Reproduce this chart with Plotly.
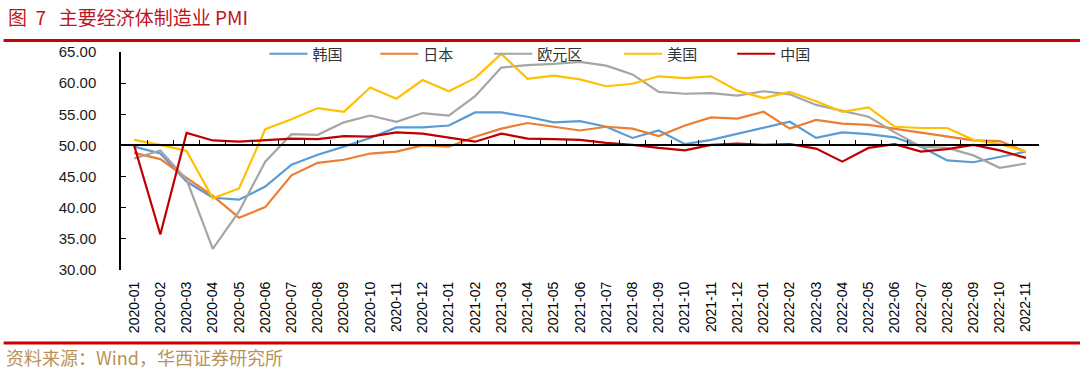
import plotly.graph_objects as go

months = ["2020-01", "2020-02", "2020-03", "2020-04", "2020-05", "2020-06", "2020-07", "2020-08",
          "2020-09", "2020-10", "2020-11", "2020-12", "2021-01", "2021-02", "2021-03", "2021-04",
          "2021-05", "2021-06", "2021-07", "2021-08", "2021-09", "2021-10", "2021-11", "2021-12",
          "2022-01", "2022-02", "2022-03", "2022-04", "2022-05", "2022-06", "2022-07", "2022-08",
          "2022-09", "2022-10", "2022-11"]

korea = [49.8, 48.7, 44.2, 41.6, 41.3, 43.4, 46.9, 48.5, 49.8, 51.2, 52.9, 52.9,
         53.2, 55.3, 55.3, 54.6, 53.7, 53.9, 53.0, 51.2, 52.4, 50.2, 50.9, 51.9,
         52.8, 53.8, 51.2, 52.1, 51.8, 51.3, 49.8, 47.6, 47.3, 48.2, 49.0]
japan = [48.8, 47.8, 44.8, 41.9, 38.4, 40.1, 45.2, 47.2, 47.7, 48.7, 49.0, 50.0,
         49.8, 51.4, 52.7, 53.6, 53.0, 52.4, 53.0, 52.7, 51.5, 53.2, 54.5, 54.3,
         55.4, 52.7, 54.1, 53.5, 53.3, 52.7, 52.1, 51.5, 50.8, 50.7, 49.0]
eurozone = [47.9, 49.2, 44.5, 33.4, 39.4, 47.4, 51.8, 51.7, 53.7, 54.8, 53.8, 55.2,
            54.8, 57.9, 62.5, 62.9, 63.1, 63.4, 62.8, 61.4, 58.6, 58.3, 58.4, 58.0,
            58.7, 58.2, 56.5, 55.5, 54.6, 52.1, 49.8, 49.6, 48.4, 46.4, 47.1]
usa = [50.9, 50.1, 49.1, 41.5, 43.1, 52.6, 54.2, 56.0, 55.4, 59.3, 57.5, 60.5,
       58.7, 60.8, 64.7, 60.7, 61.2, 60.6, 59.5, 59.9, 61.1, 60.8, 61.1, 58.8,
       57.6, 58.6, 57.1, 55.4, 56.1, 53.0, 52.8, 52.8, 50.9, 50.2, 49.0]
china = [50.0, 35.7, 52.0, 50.8, 50.6, 50.9, 51.1, 51.0, 51.5, 51.4, 52.1, 51.9,
         51.3, 50.6, 51.9, 51.1, 51.0, 50.9, 50.4, 50.1, 49.6, 49.2, 50.1, 50.3,
         50.1, 50.2, 49.5, 47.4, 49.6, 50.2, 49.0, 49.4, 50.1, 49.2, 48.0]

series_names = ["韩国", "日本", "欧元区", "美国", "中国"]
series_values = [korea, japan, eurozone, usa, china]
series_colors = ["#5B9BD5", "#ED7D31", "#A5A5A5", "#FFC000", "#C00000"]
y_ticks = [30, 35, 40, 45, 50, 55, 60, 65]

# layout geometry (pixels)
W_PX, H_PX = 1080, 376
L, R, T, B = 120.5, 1039, 52, 270
PW, PH = R - L, B - T


def px_x(x):
    return (x - L) / PW


def px_y(y):
    return (B - y) / PH


CJK = "Noto Sans CJK SC"
NB = "\u00a0"
fig = go.Figure()
legend_names = ["legend", "legend2", "legend3", "legend4", "legend5"]
legend_x_px = [264, 375, 489, 619, 732]

for name, vals, col, lg in zip(series_names, series_values, series_colors, legend_names):
    fig.add_trace(go.Scatter(x=months, y=vals, name=name, mode="lines",
                             line=dict(color=col, width=2.2), legend=lg))

layout_legends = {}
for lg, xp in zip(legend_names, legend_x_px):
    layout_legends[lg] = dict(
        x=px_x(xp), xanchor="left", y=px_y(54), yanchor="middle",
        orientation="h", bgcolor="rgba(0,0,0,0)", borderwidth=0,
        font=dict(family=CJK, size=15, color="#333333"), itemwidth=38,
    )

fig.update_layout(
    width=W_PX, height=H_PX,
    margin=dict(l=L, r=W_PX - R, t=T, b=H_PX - B, pad=0, autoexpand=False),
    paper_bgcolor="white", plot_bgcolor="white",
    showlegend=True,
    **layout_legends,
    xaxis=dict(
        type="category", categoryorder="array", categoryarray=months,
        range=[-0.5, len(months) - 0.5],
        anchor="free", position=(50 - 30) / (65 - 30),
        showline=True, linecolor="#000000", linewidth=1.5,
        ticks="inside", tickson="boundaries", ticklen=5, tickwidth=1.2, tickcolor="#000000",
        tickangle=-90, ticklabelstandoff=130, automargin=False,
        tickfont=dict(family="Liberation Sans, Arial", size=14, color="#000000"),
        showgrid=False, zeroline=False,
    ),
    yaxis=dict(
        range=[30, 65], tickvals=y_ticks, tickformat=".2f",
        showline=True, linecolor="#000000", linewidth=1.5,
        ticks="inside", ticklen=5, tickwidth=1.2, tickcolor="#000000",
        ticklabelstandoff=20, automargin=False,
        tickfont=dict(family="Liberation Sans, Arial", size=15, color="#1a1a1a"),
        showgrid=False, zeroline=False,
    ),
    shapes=[
        dict(type="line", xref="paper", yref="paper", x0=px_x(3), x1=px_x(1080),
             y0=px_y(40.5), y1=px_y(40.5), line=dict(color="#CC0000", width=3)),
        dict(type="line", xref="paper", yref="paper", x0=px_x(3), x1=px_x(1080),
             y0=px_y(343), y1=px_y(343), line=dict(color="#CC0000", width=3)),
    ],
    annotations=[
        dict(text="图" + NB * 2 + "7" + NB * 3 + "主要经济体制造业" + NB + "PMI",
             xref="paper", yref="paper",
             x=px_x(5), y=px_y(16), xanchor="left", yanchor="middle", showarrow=False,
             font=dict(family=CJK, size=19, color="#C0141E")),
        dict(text="资料来源：Wind，华西证券研究所", xref="paper", yref="paper",
             x=px_x(3), y=px_y(357), xanchor="left", yanchor="middle", showarrow=False,
             font=dict(family=CJK, size=18, color="#B8925A")),
    ],
)

fig.write_html("out.html", post_script="document.body.style.margin='0';",
               config={"displayModeBar": False})
